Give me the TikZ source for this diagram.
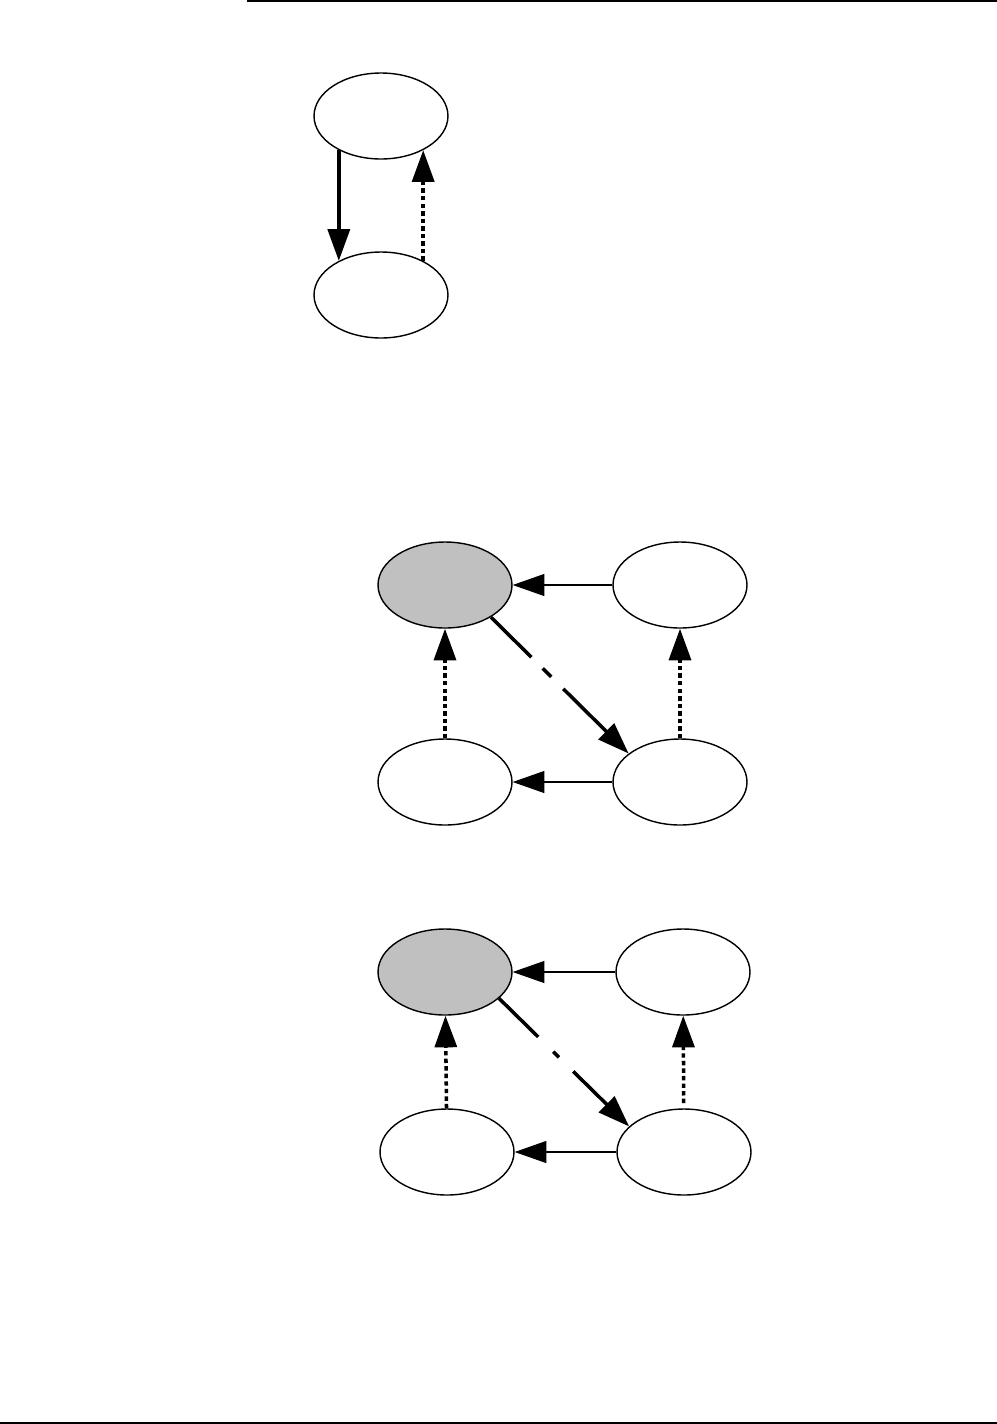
\documentclass[tikz,border=0pt]{standalone}
\usepackage{tikz}
\usetikzlibrary{arrows.meta}
\usetikzlibrary{shapes.geometric}
\usepackage{color}
\definecolor{cinza}{RGB}{192,192,192}

\begin{document}
\begin{tikzpicture}[x=0.02cm,y=-0.02cm,
  estado/.style={ellipse,draw,line width=0.8pt,fill=white,minimum width=2.68cm,minimum height=1.72cm,inner sep=0pt},
  ativo/.style={estado,fill=cinza},
  seta/.style={-{Triangle[length=18pt,width=12.5pt]}},
  fina/.style={seta,line width=0.6pt},
  forte/.style={seta,line width=2pt},
  pontilhada/.style={seta,line width=2pt,dash pattern=on 2.5pt off 1.8pt}]

\useasboundingbox (0,0) rectangle (997,1424);

% Linhas da pagina
\draw[line width=1.1pt] (247,0.7) -- (997,0.7);
\draw[line width=1.1pt] (0,1423.2) -- (997,1423.2);

% Par de estados
\node[estado] (a1) at (381,116) {};
\node[estado] (a2) at (381,295) {};
\draw[forte] (a1.-141) -- (a2.141);
\draw[pontilhada] (a2.39) -- (a1.-39);

% Primeiro ciclo
\node[ativo]  (b1) at (445,585) {};
\node[estado] (b2) at (680,585) {};
\node[estado] (b3) at (445,782) {};
\node[estado] (b4) at (680,782) {};
\draw[fina] (b2) -- (b1);
\draw[fina] (b4) -- (b3);
\draw[pontilhada] (b3) -- (b1);
\draw[pontilhada] (b4) -- (b2);
\draw[forte,dash pattern=on 32.4pt off 9.1pt on 6.8pt off 9.7pt on 400pt off 1pt] (b1.-35) -- (b4.151);

% Segundo ciclo
\node[ativo]  (c1) at (445,972) {};
\node[estado] (c2) at (683,972) {};
\node[estado] (c3) at (447,1152) {};
\node[estado] (c4) at (684,1152) {};
\draw[fina] (c2) -- (c1);
\draw[fina] (c4) -- (c3);
\draw[pontilhada] (c3) -- (c1);
\draw[pontilhada,shorten <=3pt] (c4) -- (c2);
\draw[forte,dash pattern=on 31.3pt off 12pt on 4.6pt off 11.4pt on 400pt off 1pt] (c1.-26) -- (c4.155);

\end{tikzpicture}
\end{document}
